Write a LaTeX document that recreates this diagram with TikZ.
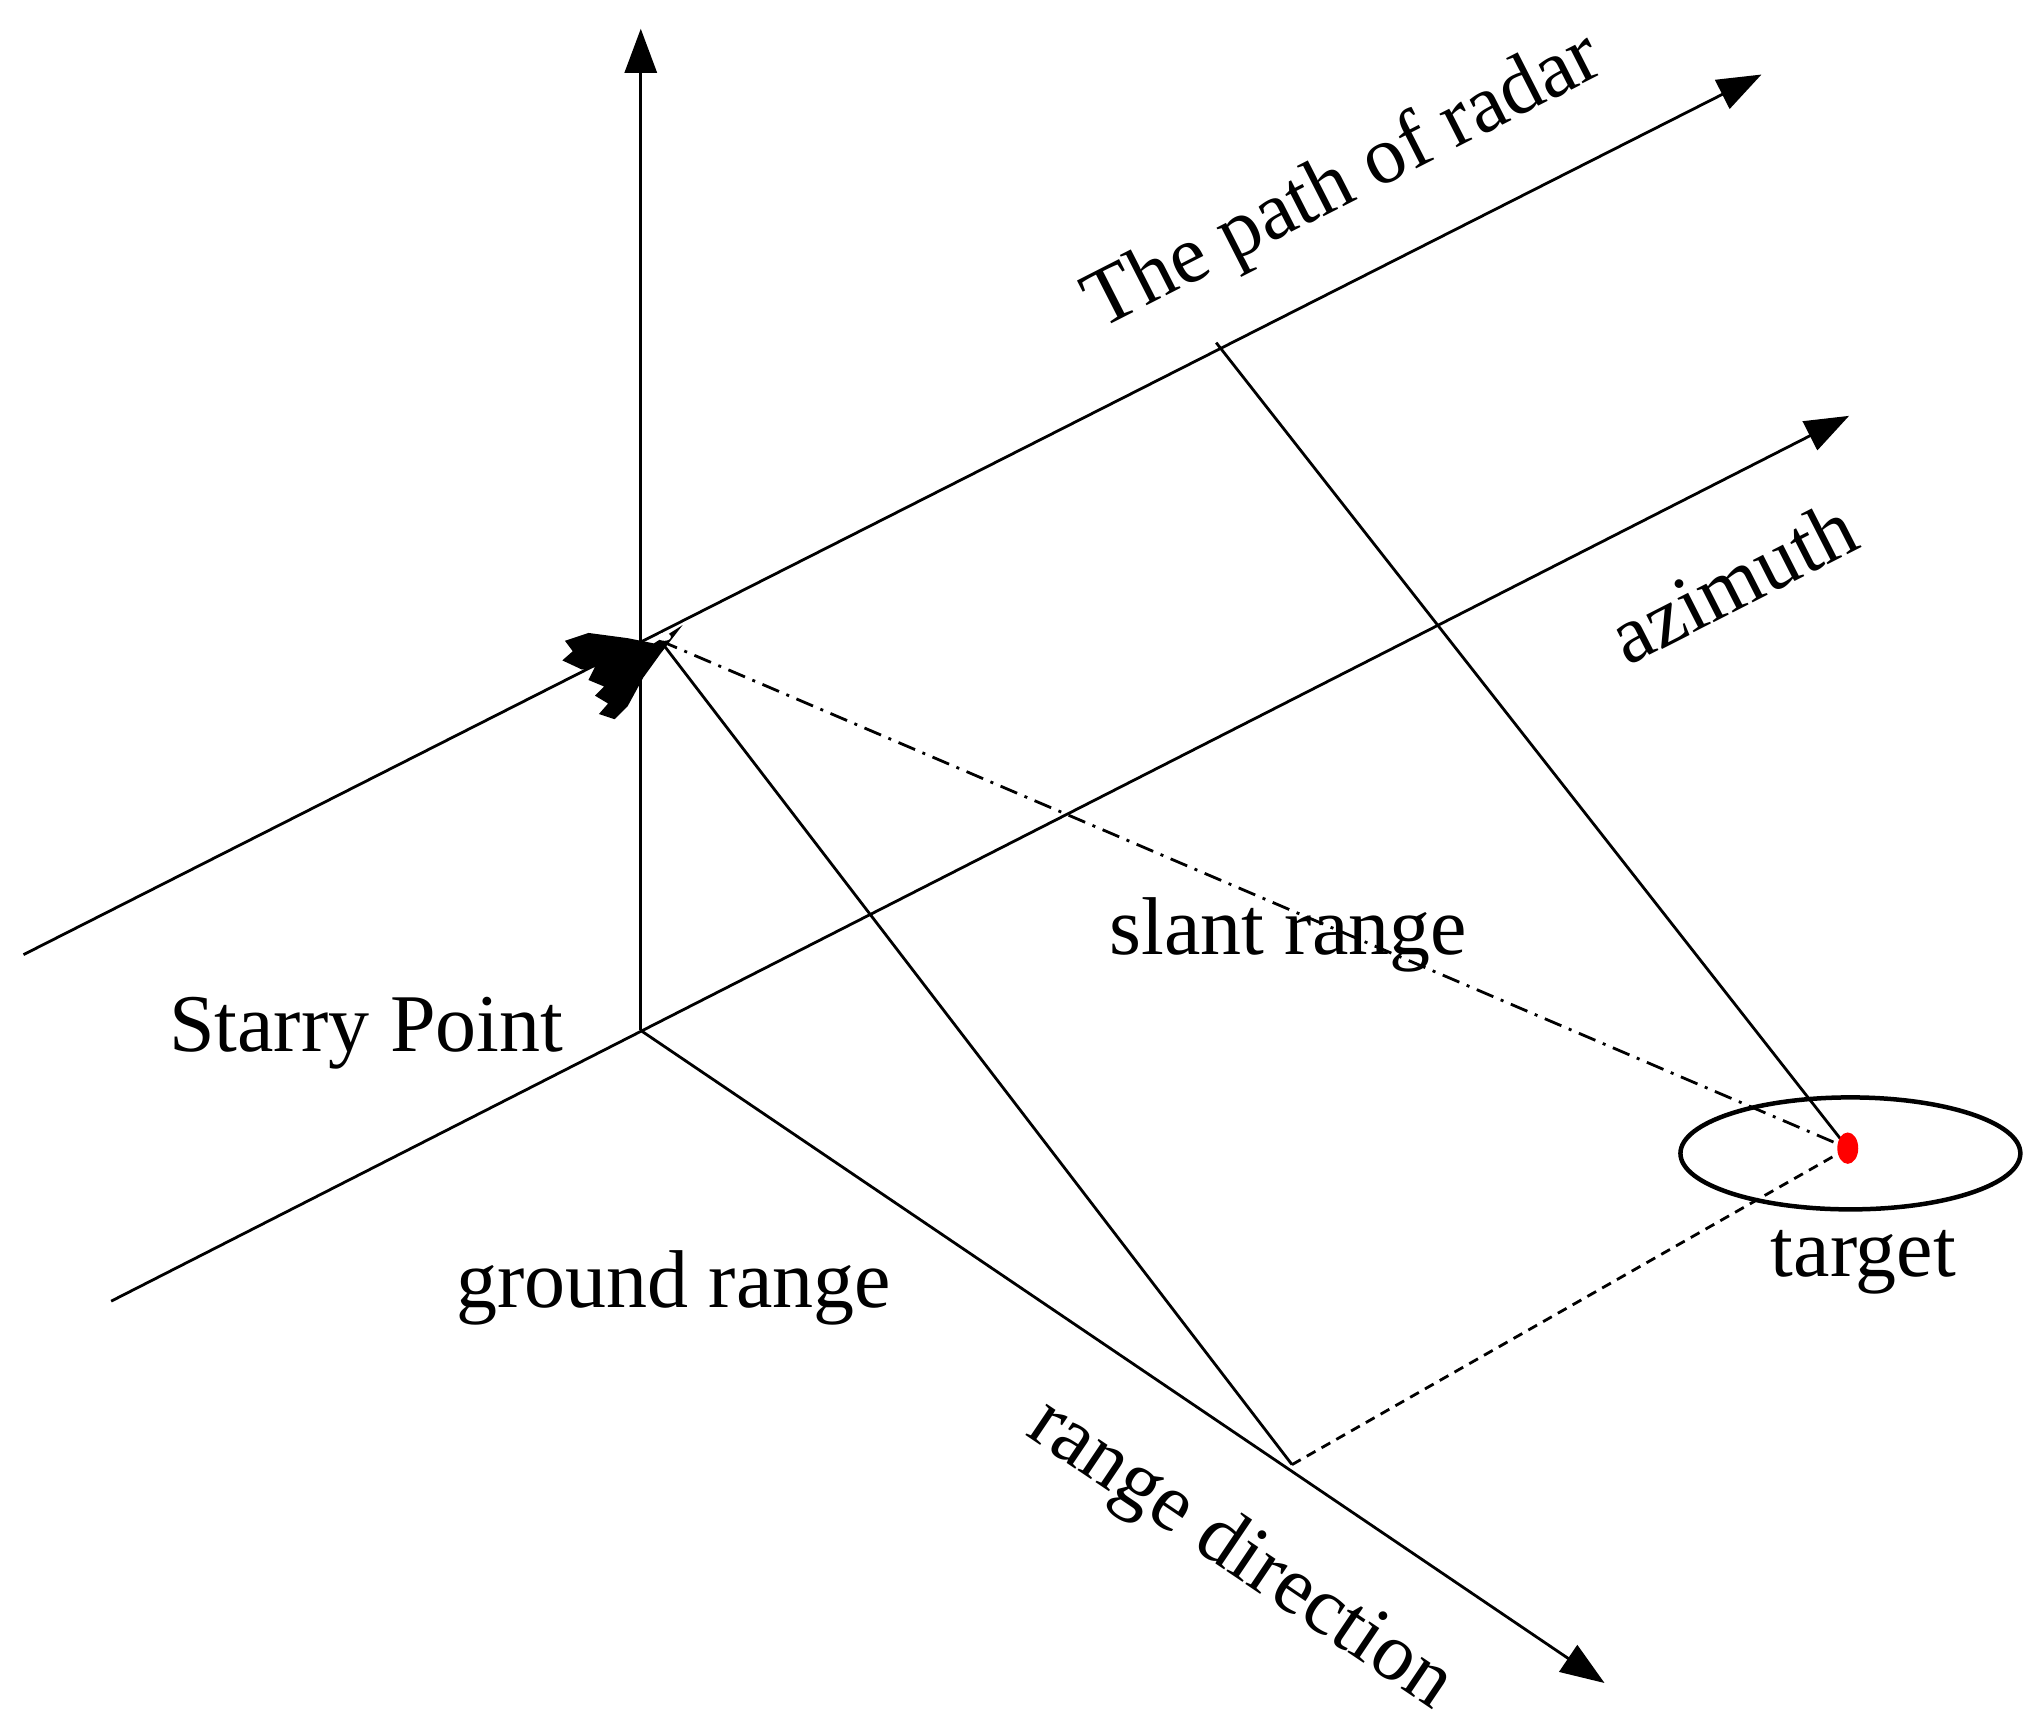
\documentclass[tikz,border=0pt]{standalone}
\usepackage{fontspec}
\setmainfont{Liberation Serif}
\usetikzlibrary{arrows.meta,shapes.geometric}
\begin{document}
\begin{tikzpicture}[x=1.308pt,y=-1.308pt,
  ln/.style={line width=2.8pt},
  ax/.style={ln,-{Triangle[length=44pt,width=32pt]}},
  lbl/.style={font=\fontsize{82}{90}\selectfont,inner sep=0pt}]
\useasboundingbox (0,0) rectangle (1560,1318);
\coordinate (O) at (490,788);
\coordinate (P) at (505,490);
\coordinate (VT) at (490,22);
\coordinate (R0) at (18,730);
\coordinate (RT) at (1347,57);
\coordinate (A0) at (85,995);
\coordinate (AT) at (1414,318);
\coordinate (DT) at (1227,1287);
\coordinate (G) at (988,1120);
\coordinate (Q) at (930,262);
\coordinate (T) at (1413,878);
\draw[ax] (O) -- (VT);
\draw[ax] (R0) -- (RT);
\draw[ax] (A0) -- (AT);
\draw[ax] (O) -- (DT);
\draw[ln] (P) -- (G);
\draw[ln] (Q) -- (T);
\draw[ln,dash pattern=on 18pt off 8pt on 3pt off 8pt] (P) -- (T);
\draw[ln,dash pattern=on 10pt off 7pt] (G) -- (T);
\node[draw,ellipse,line width=4.5pt,minimum width=340pt,minimum height=112pt,inner sep=0pt] (E) at (1415,882) {};
\fill[red] (T) ellipse (8 and 12);
% plane
\fill[black] (522,478) -- (500,492) -- (480,488) -- (450,484) -- (432,490) -- (438,498) -- (430,505) -- (445,512) -- (455,510) -- (450,520) -- (462,525) -- (455,532) -- (465,538) -- (458,546) -- (470,550) -- (480,540) -- (492,518) -- (505,500) -- cycle;
\fill[white] (508,487) ellipse (5 and 3);
\node[lbl,rotate=27] (t1) at (1028,140) {The path of radar};
\node[lbl,rotate=27] (t2) at (1325,445) {azimuth};
\node[lbl] (t3) at (985,715) {slant range};
\node[lbl] (t4) at (280,790) {Starry Point};
\node[lbl] (t5) at (515,985) {ground range};
\node[lbl,rotate=-34] (t6) at (948,1190) {range direction};
\node[lbl] (t7) at (1425,965) {target};
\end{tikzpicture}
\end{document}
